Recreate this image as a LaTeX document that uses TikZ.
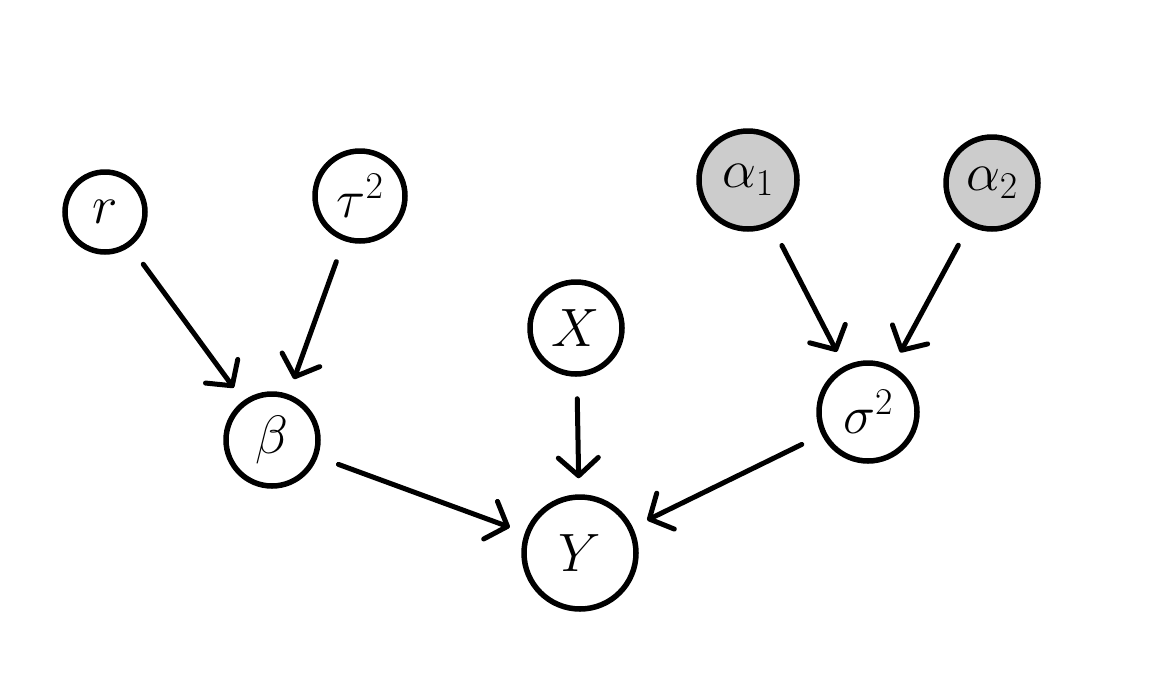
\RequirePackage{fix-cm}
\documentclass[tikz,border=0pt]{standalone}
\usetikzlibrary{arrows.meta}
\begin{document}
\begin{tikzpicture}[x=1pt,y=-1pt,
  var/.style={circle,draw=black,line width=5.5pt,inner sep=0pt,font=\fontsize{54}{60}\selectfont},
  obs/.style={var,fill=gray!40},
  edge/.style={line width=5pt,line cap=round,shorten <=22pt,shorten >=16pt,
    -{Straight Barb[length=18pt,width=40pt,line width=5pt,round]}}]
\useasboundingbox (0,0) rectangle (1155,689);
% hyperparameters
\node[var,minimum size=80pt] (r) at (105,212) {$r$};
\node[var,minimum size=90pt] (tau) at (360,196) {$\tau^2$};
\node[obs,minimum size=98pt] (a1) at (748,180) {$\alpha_1$};
\node[obs,minimum size=92pt] (a2) at (992,183) {$\alpha_2$};
% parameters and data
\node[var,minimum size=92pt] (x) at (576,328) {$X$};
\node[var,minimum size=92pt] (b) at (272,440) {$\beta$};
\node[var,minimum size=98pt] (s) at (868,412) {$\sigma^2$};
\node[var,minimum size=112pt] (y) at (580,553) {$Y$};
% dependencies
\draw[edge] (r) -- (b);
\draw[edge] (tau) -- (b);
\draw[edge] (x) -- (y);
\draw[edge] (b) -- (y);
\draw[edge] (s) -- (y);
\draw[edge] (a1) -- (s);
\draw[edge] (a2) -- (s);
\end{tikzpicture}
\end{document}
